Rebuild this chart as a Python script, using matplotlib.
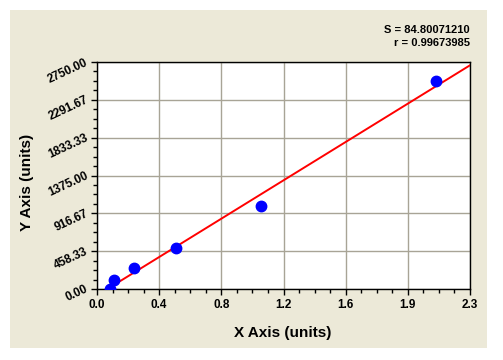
import numpy as np
import matplotlib.pyplot as plt
from matplotlib.patches import Rectangle
from matplotlib.ticker import FixedLocator, AutoMinorLocator

plt.rcParams['font.family'] = ['Liberation Sans', 'DejaVu Sans']

# data
x_vals = [0.08, 0.105, 0.226, 0.49, 1.01, 2.09]
y_vals = [0, 110, 250, 500, 1005, 2520]
x_ticks = [0, 2.3 / 6, 2 * 2.3 / 6, 3 * 2.3 / 6, 4 * 2.3 / 6, 5 * 2.3 / 6, 2.3]
x_labels = ["0.0", "0.4", "0.8", "1.2", "1.6", "1.9", "2.3"]
y_ticks = [0, 458.33, 916.67, 1375.0, 1833.33, 2291.67, 2750.0]
stat_s = "S = 84.80071210"
stat_r = "r = 0.99673985"

fig = plt.figure(figsize=(5.03, 3.6), dpi=100)
fig.patch.set_facecolor('white')
fig.patches.append(Rectangle((10 / 503, 1 - 348 / 360), 477 / 503, 338 / 360,
                             transform=fig.transFigure, facecolor='#ECE9D8',
                             edgecolor='none', zorder=-1))

ax = fig.add_axes([97 / 503, 1 - 289 / 360, 373 / 503, 227 / 360])
ax.set_zorder(2)
ax.set_facecolor('white')

slope, icpt = np.polyfit(x_vals, y_vals, 1)
xl = np.linspace(0, 2.3, 50)
ax.plot(xl, slope * xl + icpt, color='#FF0000', lw=1.4, zorder=3)
ax.plot(x_vals, y_vals, 'o', color='#0000FF', ms=7.5, zorder=4)

ax.set_xlim(0, 2.3)
ax.set_ylim(0, 2750)
ax.xaxis.set_major_locator(FixedLocator(x_ticks))
ax.yaxis.set_major_locator(FixedLocator(y_ticks))
ax.xaxis.set_minor_locator(AutoMinorLocator(4))
ax.yaxis.set_minor_locator(AutoMinorLocator(4))
ax.set_xticklabels(x_labels, fontsize=8.5, fontweight='bold')
ax.set_yticklabels(["%.2f" % t for t in y_ticks], fontsize=8.5, fontweight='bold',
                   rotation=25, ha='right', va='center', rotation_mode='anchor')
ax.tick_params(which='major', direction='out', length=4, width=1, color='black', pad=3)
ax.tick_params(which='minor', direction='out', length=3, width=1, color='black')
ax.grid(True, which='major', color='#A8A496', lw=1)
ax.set_axisbelow(True)
for sp in ax.spines.values():
    sp.set_color('black')
    sp.set_linewidth(1)

fig.text(283 / 503, 1 - 333 / 360, "X Axis (units)", fontsize=11, fontweight='bold',
         ha='center', va='center')
fig.text(27 / 503, 1 - 182 / 360, "Y Axis (units)", fontsize=11, fontweight='bold',
         ha='center', va='center', rotation=90)
fig.text(470 / 503, 1 - 30 / 360, stat_s, fontsize=8, fontweight='bold',
         ha='right', va='center')
fig.text(470 / 503, 1 - 43 / 360, stat_r, fontsize=8, fontweight='bold',
         ha='right', va='center')

fig.savefig('out.png', dpi=100)
